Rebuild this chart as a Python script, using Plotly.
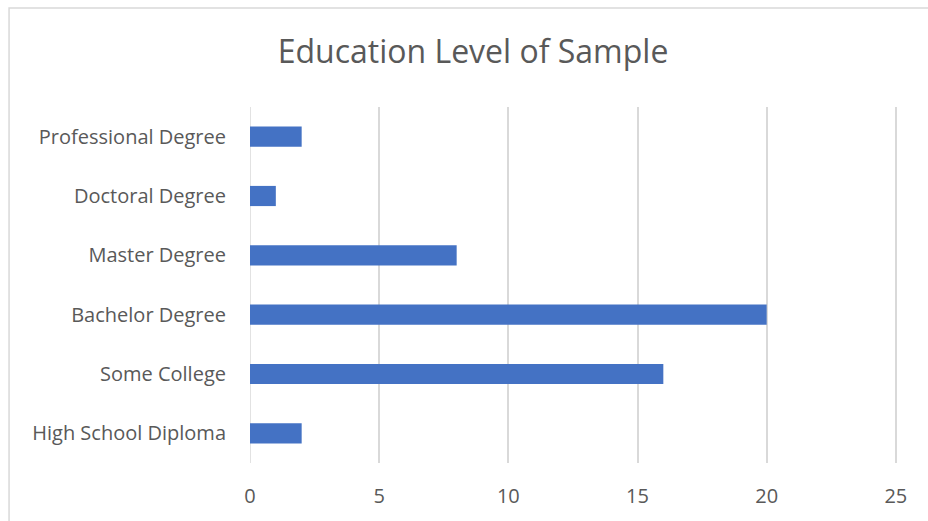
import plotly.graph_objects as go

categories = ["High School Diploma", "Some College", "Bachelor Degree",
              "Master Degree", "Doctoral Degree", "Professional Degree"]
values = [2, 16, 20, 8, 1, 2]
x_ticks = [0, 5, 10, 15, 20, 25]

W, H = 928, 521
XMAX = 25.2
L, T, B = 250, 107, 58
pw = 646 * XMAX / 25
R = W - L - pw
ph = H - T - B

TEXT = "#595959"
FONT = "Open Sans"

fig = go.Figure(go.Bar(
    y=categories, x=values, orientation="h",
    marker=dict(color="#4472C4", line=dict(width=0)),
    hoverinfo="x+y",
))

fig.update_layout(
    width=W, height=H,
    margin=dict(l=L, r=R, t=T, b=B, pad=0),
    paper_bgcolor="white", plot_bgcolor="white",
    bargap=0.66,
    showlegend=False,
    font=dict(family=FONT, color=TEXT, size=20),
    title=dict(text="Education Level of Sample", x=473 / W, xanchor="center",
               y=1 - 52 / H, yanchor="middle", xref="container", yref="container",
               font=dict(family=FONT, size=32, color=TEXT)),
    xaxis=dict(range=[0, XMAX], tickvals=x_ticks, showgrid=True, gridcolor="#d9d9d9",
               gridwidth=1.5, zeroline=False, showline=False, ticks="",
               ticklabelstandoff=19, tickfont=dict(size=20, color=TEXT), fixedrange=True),
    yaxis=dict(showgrid=False, zeroline=False, showline=False, ticks="",
               ticklabelstandoff=23, tickfont=dict(size=20, color=TEXT), fixedrange=True),
    shapes=[dict(type="rect", xref="paper", yref="paper",
                 x0=(9 - L) / pw, x1=(W + 20 - L) / pw,
                 y0=-(B + 20) / ph, y1=1 + (T - 8) / ph,
                 line=dict(color="#d9d9d9", width=1.5), fillcolor="rgba(0,0,0,0)",
                 layer="below"),
            dict(type="line", xref="x", yref="paper", x0=x_ticks[0], x1=x_ticks[0],
                 y0=0, y1=1, line=dict(color="#d9d9d9", width=1.5), layer="below")],
)

fig.write_html("out.html", config={"displayModeBar": False},
               post_script="document.body.style.margin='0';")
